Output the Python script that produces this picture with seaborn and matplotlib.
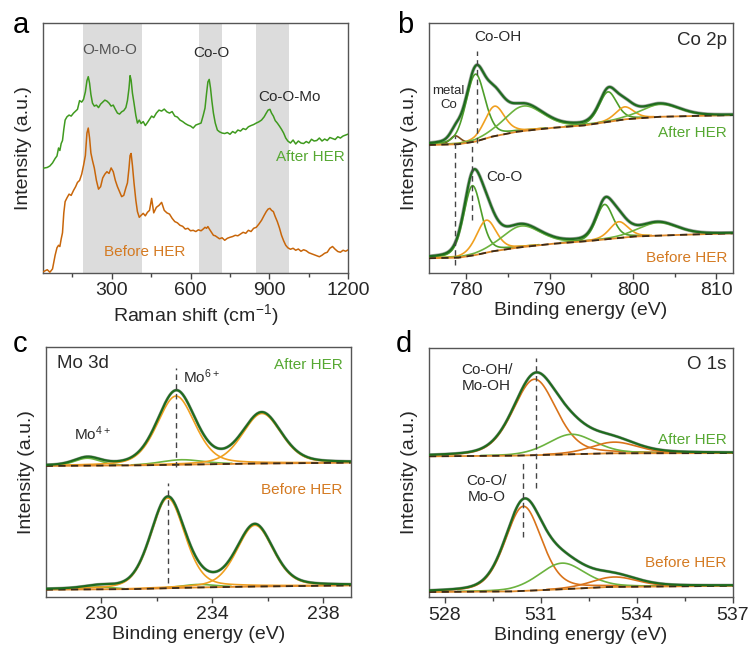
import numpy as np
import pandas as pd
import matplotlib
matplotlib.use("Agg")
import matplotlib.pyplot as plt
import seaborn as sns

sns.set_theme(style="ticks")
plt.rcParams['font.family'] = ['Liberation Sans', 'DejaVu Sans']
plt.rcParams['mathtext.fontset'] = 'custom'
plt.rcParams['mathtext.rm'] = 'Liberation Sans'
plt.rcParams['mathtext.it'] = 'Liberation Sans:italic'

# ---------------- Panel a: Raman ----------------
raman_x = [40, 55, 65, 75, 85, 92, 98, 103, 108, 113, 118, 123, 130, 138, 146, 155, 163, 170, 178, 186,
           193, 200, 206, 211, 216, 221, 227, 234, 242, 250, 258, 266, 274, 282, 290, 298, 306, 314, 322, 330,
           338, 346, 354, 360, 366, 370, 374, 379, 385, 392, 398, 405, 412, 420, 428, 436, 444, 452, 460, 470,
           480, 490, 500, 510, 520, 530, 540, 550, 560, 570, 580, 590, 600, 610, 620, 630, 640, 648, 655, 661,
           666, 671, 676, 681, 687, 694, 702, 710, 720, 730, 740, 750, 760, 770, 780, 790, 800, 810, 820, 830,
           840, 850, 860, 870, 880, 888, 895, 902, 908, 915, 922, 930, 938, 946, 954, 962, 970, 980, 990, 1000,
           1010, 1020, 1030, 1040, 1050, 1060, 1070, 1080, 1090, 1100, 1110, 1120, 1130, 1140, 1150, 1160, 1170,
           1180, 1190, 1200]
raman_after = [0.419, 0.422, 0.428, 0.440, 0.458, 0.468, 0.500, 0.490, 0.518, 0.530, 0.575, 0.612, 0.625, 0.632,
               0.628, 0.640, 0.648, 0.655, 0.690, 0.684, 0.695, 0.725, 0.770, 0.786, 0.760, 0.715, 0.680, 0.668,
               0.672, 0.662, 0.676, 0.684, 0.692, 0.688, 0.680, 0.668, 0.672, 0.655, 0.640, 0.636, 0.645, 0.650,
               0.662, 0.690, 0.740, 0.790, 0.772, 0.720, 0.680, 0.630, 0.600, 0.612, 0.598, 0.606, 0.590, 0.602,
               0.615, 0.628, 0.622, 0.640, 0.652, 0.648, 0.656, 0.645, 0.640, 0.646, 0.628, 0.624, 0.612, 0.606,
               0.598, 0.592, 0.588, 0.580, 0.592, 0.596, 0.600, 0.630, 0.660, 0.720, 0.765, 0.775, 0.740, 0.690,
               0.640, 0.600, 0.572, 0.565, 0.560, 0.558, 0.562, 0.555, 0.566, 0.560, 0.572, 0.568, 0.578, 0.574,
               0.585, 0.590, 0.594, 0.600, 0.605, 0.612, 0.625, 0.640, 0.652, 0.655, 0.640, 0.628, 0.610, 0.600,
               0.588, 0.575, 0.560, 0.540, 0.528, 0.520, 0.532, 0.516, 0.528, 0.520, 0.518, 0.526, 0.520, 0.535,
               0.528, 0.530, 0.540, 0.528, 0.536, 0.530, 0.542, 0.538, 0.534, 0.545, 0.540, 0.548, 0.552, 0.556]
raman_before = [0.004, 0.012, 0.002, 0.015, 0.070, 0.100, 0.110, 0.105, 0.135, 0.160, 0.240, 0.285, 0.300, 0.315,
                0.310, 0.330, 0.345, 0.362, 0.370, 0.395, 0.430, 0.470, 0.560, 0.580, 0.540, 0.480, 0.450, 0.420,
                0.370, 0.335, 0.345, 0.380, 0.395, 0.405, 0.398, 0.420, 0.405, 0.370, 0.345, 0.325, 0.305, 0.310,
                0.340, 0.360, 0.420, 0.470, 0.478, 0.430, 0.360, 0.290, 0.245, 0.222, 0.230, 0.238, 0.228, 0.242,
                0.250, 0.298, 0.240, 0.262, 0.270, 0.282, 0.250, 0.240, 0.235, 0.218, 0.205, 0.200, 0.190, 0.186,
                0.175, 0.178, 0.168, 0.170, 0.165, 0.172, 0.168, 0.175, 0.182, 0.178, 0.185, 0.176, 0.168, 0.160,
                0.150, 0.148, 0.142, 0.136, 0.140, 0.130, 0.138, 0.142, 0.145, 0.150, 0.148, 0.155, 0.162, 0.158,
                0.170, 0.165, 0.178, 0.182, 0.195, 0.210, 0.230, 0.245, 0.255, 0.258, 0.250, 0.245, 0.225, 0.205,
                0.180, 0.150, 0.128, 0.110, 0.100, 0.094, 0.098, 0.090, 0.095, 0.086, 0.092, 0.088, 0.080, 0.076,
                0.072, 0.068, 0.064, 0.070, 0.078, 0.082, 0.098, 0.105, 0.094, 0.085, 0.082, 0.090, 0.086, 0.092]
raman_bands = [(190, 415), (633, 720), (850, 973)]

# ---------------- Panel b: Co 2p ----------------
co_bg_after_x = [775.5, 779, 781, 783, 786, 790, 794, 796, 799, 803, 812]
co_bg_after_y = [0.512, 0.515, 0.525, 0.545, 0.565, 0.580, 0.590, 0.600, 0.615, 0.625, 0.632]
co_bg_before_x = [775.5, 779, 781, 783, 786, 790, 794, 797, 800, 804, 812]
co_bg_before_y = [0.058, 0.060, 0.070, 0.085, 0.100, 0.115, 0.125, 0.135, 0.145, 0.150, 0.158]
# (center, height, fwhm, kind)
co_peaks_after = [(778.7, 0.034, 1.5, 'metal'), (781.1, 0.27, 2.7, 'green'), (783.4, 0.12, 2.8, 'orange'),
                  (786.9, 0.10, 5.5, 'lgreen'), (797.0, 0.12, 2.5, 'green'), (799.0, 0.05, 2.6, 'orange'),
                  (803.3, 0.05, 5.5, 'lgreen')]
co_peaks_before = [(780.75, 0.28, 2.5, 'green'), (782.4, 0.13, 2.8, 'orange'), (786.6, 0.085, 5.5, 'lgreen'),
                   (796.6, 0.14, 2.4, 'green'), (798.3, 0.065, 2.6, 'orange'), (803.0, 0.052, 5.5, 'lgreen')]

# ---------------- Panel c: Mo 3d ----------------
mo_bg_after_x = [228, 231, 233, 235, 239]
mo_bg_after_y = [0.523, 0.525, 0.528, 0.532, 0.536]
mo_bg_before_x = [228, 231, 233, 235, 239]
mo_bg_before_y = [0.028, 0.030, 0.036, 0.040, 0.045]
mo_peaks_after = [(229.5, 0.03, 1.1, 'lgreen'), (232.7, 0.275, 1.6, 'orange'), (232.9, 0.02, 1.8, 'lgreen'),
                  (235.8, 0.20, 1.65, 'orange')]
mo_peaks_before = [(229.9, 0.01, 1.2, 'lgreen'), (232.4, 0.36, 1.45, 'orange'), (233.5, 0.012, 1.4, 'lgreen'),
                   (235.55, 0.245, 1.55, 'orange')]

# ---------------- Panel d: O 1s ----------------
o_bg_after_x = [527.5, 530, 531.5, 533, 537]
o_bg_after_y = [0.565, 0.567, 0.572, 0.577, 0.578]
o_bg_before_x = [527.5, 530, 531.5, 533, 537]
o_bg_before_y = [0.020, 0.022, 0.030, 0.040, 0.045]
o_peaks_after = [(530.8, 0.305, 1.6, 'dorange'), (531.95, 0.08, 1.7, 'lgreen'), (533.3, 0.045, 1.7, 'dorange')]
o_peaks_before = [(530.45, 0.34, 1.35, 'dorange'), (531.65, 0.105, 1.7, 'lgreen'), (533.3, 0.04, 1.7, 'dorange')]

COL = {'green': '#4e9e2a', 'lgreen': '#6cb33f', 'orange': '#f0a020', 'dorange': '#d9731a', 'metal': '#7a4a1a'}
ENV = '#1f6b1f'
RAW = '#9a9a9a'
GREEN_TXT = '#56a832'
ORANGE_TXT = '#d47a22'
TXT = '#2a2a2a'
FS_TICK = 14
FS_ANN = 11

W, H = 752, 652
fig = plt.figure(figsize=(W / 100, H / 100), dpi=100)


def rect(l, r, t, b):
    return [l / W, 1 - b / H, (r - l) / W, (b - t) / H]


axa = fig.add_axes(rect(43.3, 348.3, 23.3, 272.7))
axb = fig.add_axes(rect(428.7, 733, 23.3, 272.7))
axc = fig.add_axes(rect(45.7, 350.7, 346.7, 596.7))
axd = fig.add_axes(rect(429, 733, 348, 597))


def pv(x, c, h, w, eta=0.3):
    d = 4 * (x - c) ** 2 / w ** 2
    return h * (eta / (1 + d) + (1 - eta) * np.exp(-np.log(2) * d))


def style_axis(ax, xlim, major, minor, xlabel):
    ax.set_xlim(*xlim)
    ax.set_ylim(0, 1)
    ax.set_xticks(major)
    ax.set_xticks(minor, minor=True)
    ax.set_yticks([])
    ax.tick_params(axis='x', which='major', length=4, width=1, labelsize=FS_TICK, color='#444', pad=3)
    ax.tick_params(axis='x', which='minor', length=3, width=1, color='#444')
    for s in ax.spines.values():
        s.set_color('#555')
        s.set_linewidth(1.0)
    ax.set_xlabel(xlabel, fontsize=FS_TICK, labelpad=2)
    ax.set_ylabel('Intensity (a.u.)', fontsize=FS_TICK, labelpad=8)


def draw_xps(ax, xlim, bgx, bgy, peaks, raw_lw=2.6):
    x = np.linspace(xlim[0], xlim[1], 800)
    bg = np.interp(x, bgx, bgy)
    env = bg.copy()
    for c, h, w, k in peaks:
        env = env + pv(x, c, h, w)
    df = pd.DataFrame({'x': x, 'raw': env, 'env': env, 'bg': bg})
    sns.lineplot(data=df, x='x', y='raw', ax=ax, color=RAW, lw=raw_lw, alpha=0.85, zorder=2)
    for c, h, w, k in peaks:
        comp = bg + pv(x, c, h, w)
        mask = comp - bg > 0.002
        ax.plot(x[mask], comp[mask], color=COL[k], lw=1.2, zorder=3)
    ax.plot(x, bg, color='#e08a2a', lw=1.3, zorder=3)
    ax.plot(x, bg, color='#3a2a1a', lw=1.3, ls=(0, (4, 3)), zorder=3)
    sns.lineplot(data=df, x='x', y='env', ax=ax, color=ENV, lw=1.6, zorder=4)
    ax.set_xlabel('')
    ax.set_ylabel('')


# ---- a ----
for lo, hi in raman_bands:
    axa.axvspan(lo, hi, color='#dcdcdc', lw=0, zorder=0)
dfa = pd.DataFrame({'x': raman_x, 'after': raman_after, 'before': raman_before})
sns.lineplot(data=dfa, x='x', y='after', ax=axa, color='#3f9a1f', lw=1.1, zorder=3)
sns.lineplot(data=dfa, x='x', y='before', ax=axa, color='#c8660a', lw=1.1, zorder=3)
style_axis(axa, (40, 1200), [300, 600, 900, 1200], [150, 450, 750, 1050], 'Raman shift (cm$^{-1}$)')
axa.text(294, 0.893, 'O-Mo-O', ha='center', va='center', fontsize=FS_ANN, color='#555')
axa.text(680, 0.882, 'Co-O', ha='center', va='center', fontsize=FS_ANN, color=TXT)
axa.text(975, 0.706, 'Co-O-Mo', ha='center', va='center', fontsize=FS_ANN, color=TXT)
axa.text(1185, 0.465, 'After HER', ha='right', va='center', fontsize=FS_ANN, color=GREEN_TXT)
axa.text(270, 0.084, 'Before HER', ha='left', va='center', fontsize=FS_ANN, color=ORANGE_TXT)

# ---- b ----
draw_xps(axb, (775.5, 812), co_bg_after_x, co_bg_after_y, co_peaks_after)
draw_xps(axb, (775.5, 812), co_bg_before_x, co_bg_before_y, co_peaks_before)
style_axis(axb, (775.5, 812), [780, 790, 800, 810], [785, 795, 805], 'Binding energy (eV)')
axb.plot([778.7, 778.7], [0.03, 0.55], color='#444', lw=1.0, ls=(0, (4, 3)), zorder=5)
axb.plot([780.75, 780.75], [0.21, 0.52], color='#444', lw=1.0, ls=(0, (4, 3)), zorder=5)
axb.plot([781.3, 781.3], [0.52, 0.89], color='#444', lw=1.0, ls=(0, (4, 3)), zorder=5)
axb.text(783.8, 0.946, 'Co-OH', ha='center', va='center', fontsize=FS_ANN, color=TXT)
axb.text(811.3, 0.933, 'Co 2p', ha='right', va='center', fontsize=13.5, color=TXT)
axb.text(777.9, 0.70, 'metal\nCo', ha='center', va='center', fontsize=9.5, color=TXT, linespacing=1.3)
axb.text(784.6, 0.385, 'Co-O', ha='center', va='center', fontsize=FS_ANN, color=TXT)
axb.text(811.3, 0.561, 'After HER', ha='right', va='center', fontsize=FS_ANN, color=GREEN_TXT)
axb.text(811.3, 0.06, 'Before HER', ha='right', va='center', fontsize=FS_ANN, color=ORANGE_TXT)

# ---- c ----
draw_xps(axc, (228, 239), mo_bg_after_x, mo_bg_after_y, mo_peaks_after, raw_lw=2.2)
draw_xps(axc, (228, 239), mo_bg_before_x, mo_bg_before_y, mo_peaks_before, raw_lw=2.2)
style_axis(axc, (228, 239), [230, 234, 238], [232, 236], 'Binding energy (eV)')
axc.plot([232.7, 232.7], [0.52, 0.914], color='#444', lw=1.0, ls=(0, (4, 3)), zorder=5)
axc.plot([232.4, 232.4], [0.054, 0.454], color='#444', lw=1.0, ls=(0, (4, 3)), zorder=5)
axc.text(228.4, 0.934, 'Mo 3d', ha='left', va='center', fontsize=13.5, color=TXT)
axc.text(238.7, 0.927, 'After HER', ha='right', va='center', fontsize=FS_ANN, color=GREEN_TXT)
axc.text(238.7, 0.427, 'Before HER', ha='right', va='center', fontsize=FS_ANN, color=ORANGE_TXT)
axc.text(232.95, 0.88, 'Mo$^{6+}$', ha='left', va='center', fontsize=FS_ANN, color=TXT)
axc.text(229.7, 0.653, 'Mo$^{4+}$', ha='center', va='center', fontsize=FS_ANN, color=TXT)

# ---- d ----
draw_xps(axd, (527.5, 537), o_bg_after_x, o_bg_after_y, o_peaks_after, raw_lw=2.2)
draw_xps(axd, (527.5, 537), o_bg_before_x, o_bg_before_y, o_peaks_before, raw_lw=2.2)
style_axis(axd, (527.5, 537), [528, 531, 534, 537], [529.5, 532.5, 535.5], 'Binding energy (eV)')
axd.plot([530.85, 530.85], [0.436, 0.958], color='#444', lw=1.0, ls=(0, (4, 3)), zorder=5)
axd.plot([530.45, 530.45], [0.242, 0.537], color='#444', lw=1.0, ls=(0, (4, 3)), zorder=5)
axd.text(529.3, 0.881, 'Co-OH/\nMo-OH', ha='center', va='center', fontsize=FS_ANN, color=TXT, linespacing=1.2)
axd.text(529.3, 0.434, 'Co-O/\nMo-O', ha='center', va='center', fontsize=FS_ANN, color=TXT, linespacing=1.2)
axd.text(536.8, 0.932, 'O 1s', ha='right', va='center', fontsize=13.5, color=TXT)
axd.text(536.8, 0.63, 'After HER', ha='right', va='center', fontsize=FS_ANN, color=GREEN_TXT)
axd.text(536.8, 0.135, 'Before HER', ha='right', va='center', fontsize=FS_ANN, color=ORANGE_TXT)

# panel letters
for lbl, x0, y0 in [('a', 13, 33.3), ('b', 397, 33.3), ('c', 13, 351.7), ('d', 396, 351.7)]:
    fig.text(x0 / W, 1 - y0 / H, lbl, fontsize=21, ha='left', va='baseline', color='black')

fig.savefig('out.png', dpi=100)
